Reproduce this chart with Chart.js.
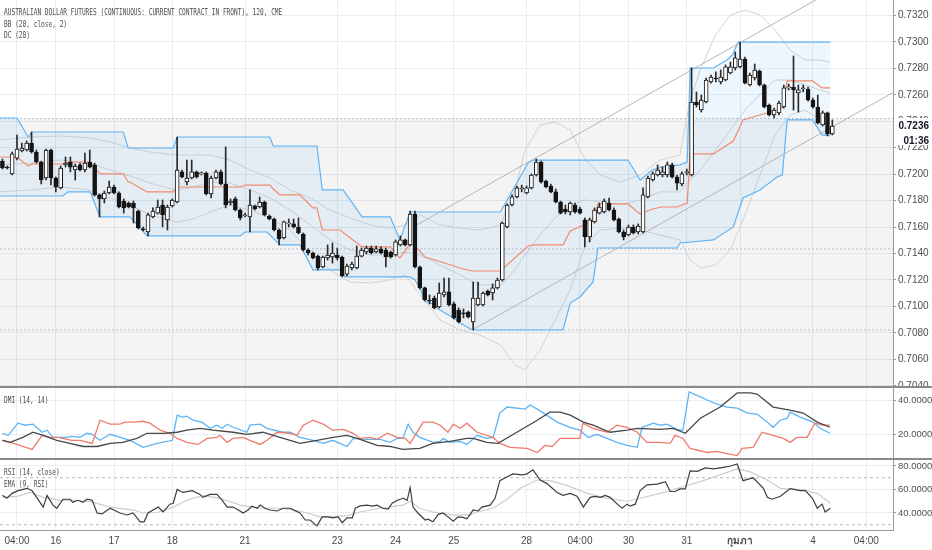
<!DOCTYPE html>
<html><head><meta charset="utf-8">
<script src="https://cdn.jsdelivr.net/npm/chart.js@4.4.1/dist/chart.umd.min.js"></script>
<style>
html,body{margin:0;padding:0;background:#fff;width:932px;height:550px;overflow:hidden}
#wrap{position:relative;width:932px;height:550px}
canvas{position:absolute;left:0}
.lg{position:absolute;left:4px;font-family:'DejaVu Sans Mono','Liberation Mono',monospace;font-size:8.5px;line-height:10px;color:#4a4a4a;transform:scaleX(0.725);transform-origin:0 50%;white-space:nowrap}
.sep{position:absolute;left:0;width:932px;height:2px;background:#8a8a8a}
</style></head><body>
<div id="wrap">
<canvas id="main" width="932" height="387" style="top:0"></canvas>
<canvas id="dmi" width="932" height="71" style="top:388px"></canvas>
<canvas id="rsi" width="932" height="90" style="top:460px"></canvas>
<div class="sep" style="top:386px"></div>
<div class="sep" style="top:458px"></div>
<div class="lg" style="top:7px">AUSTRALIAN DOLLAR FUTURES (CONTINUOUS: CURRENT CONTRACT IN FRONT), 120, CME</div>
<div class="lg" style="top:19px">BB (20, close, 2)</div>
<div class="lg" style="top:30px">DC (20)</div>
<div class="lg" style="top:395px">DMI (14, 14)</div>
<div class="lg" style="top:467px">RSI (14, close)</div>
<div class="lg" style="top:479px">EMA (9, RSI)</div>
</div>
<script>
// ---------- price candles (2h bars) ----------
const open = [0.72099,0.72054,0.72002,0.72122,0.72175,0.72183,0.72236,0.72168,0.72092,0.71971,
0.72183,0.71971,0.71896,0.72070,0.72092,0.72032,0.72070,0.72032,0.72092,0.72070,
0.71843,0.71813,0.71858,0.71903,0.71858,0.71797,0.71782,0.71782,0.71722,0.71586,
0.71563,0.71677,0.71706,0.71767,0.71654,0.71760,0.71790,0.72017,0.71941,0.71971,
0.72017,0.72002,0.72009,0.71851,0.71971,0.72017,0.71926,0.71782,0.71813,0.71729,
0.71684,0.71677,0.71760,0.71752,0.71790,0.71684,0.71661,0.71578,0.71518,0.71624,
0.71624,0.71601,0.71548,0.71427,0.71404,0.71381,0.71298,0.71366,0.71374,0.71389,
0.71374,0.71245,0.71291,0.71291,0.71381,0.71412,0.71442,0.71412,0.71435,0.71427,
0.71412,0.71389,0.71465,0.71503,0.71465,0.71699,0.71298,0.71140,0.71049,0.71064,
0.70996,0.71087,0.71110,0.71019,0.70973,0.70951,0.70958,0.70883,0.71011,0.71011,
0.71117,0.71102,0.71140,0.71200,0.71601,0.71767,0.71828,0.71888,0.71858,0.71896,
0.71994,0.72092,0.71948,0.71911,0.71866,0.71790,0.71737,0.71714,0.71767,0.71737,
0.71654,0.71525,0.71639,0.71706,0.71714,0.71782,0.71729,0.71661,0.71563,0.71540,
0.71601,0.71563,0.71563,0.71828,0.71956,0.71994,0.71994,0.71994,0.72070,0.71979,
0.71926,0.72009,0.71994,0.72546,0.72485,0.72546,0.72697,0.72727,0.72697,0.72712,
0.72765,0.72803,0.72811,0.72871,0.72674,0.72727,0.72780,0.72674,0.72523,0.72448,
0.72463,0.72508,0.72652,0.72659,0.72614,0.72644,0.72644,0.72561,0.72508,0.72372,
0.72463,0.72304];
const high = [0.72115,0.72062,0.72168,0.72296,0.72236,0.72251,0.72319,0.72183,0.72099,0.72190,
0.72190,0.71979,0.72062,0.72130,0.72130,0.72077,0.72084,0.72160,0.72183,0.72084,
0.71851,0.71873,0.71948,0.71918,0.71866,0.71813,0.71790,0.71797,0.71729,0.71601,
0.71706,0.71745,0.71805,0.71805,0.71767,0.71813,0.72281,0.72032,0.72107,0.72107,
0.72024,0.72017,0.72017,0.71986,0.72032,0.72032,0.72206,0.71813,0.71828,0.71737,
0.71706,0.71881,0.71767,0.71828,0.71797,0.71692,0.71669,0.71586,0.71646,0.71661,
0.71661,0.71669,0.71556,0.71435,0.71412,0.71389,0.71381,0.71465,0.71480,0.71442,
0.71381,0.71321,0.71336,0.71457,0.71442,0.71457,0.71457,0.71457,0.71450,0.71442,
0.71419,0.71503,0.71533,0.71510,0.71722,0.71722,0.71306,0.71147,0.71087,0.71079,
0.71177,0.71215,0.71215,0.71034,0.70989,0.70981,0.70966,0.71185,0.71185,0.71110,
0.71125,0.71170,0.71215,0.71639,0.71775,0.71843,0.71911,0.71918,0.71911,0.72002,
0.72115,0.72099,0.71956,0.71926,0.71888,0.71797,0.71767,0.71790,0.71782,0.71752,
0.71669,0.71669,0.71745,0.71782,0.71813,0.71820,0.71745,0.71669,0.71578,0.71616,
0.71616,0.71624,0.71896,0.71986,0.72017,0.72070,0.72055,0.72092,0.72084,0.71994,
0.72017,0.72039,0.72803,0.72622,0.72599,0.72727,0.72750,0.72773,0.72788,0.72826,
0.72848,0.72924,0.72999,0.72886,0.72765,0.72833,0.72788,0.72682,0.72531,0.72500,
0.72553,0.72674,0.72682,0.72894,0.72674,0.72674,0.72659,0.72576,0.72599,0.72478,
0.72470,0.72410];
const low = [0.72039,0.72039,0.71994,0.72107,0.72168,0.72175,0.72160,0.72084,0.71926,0.71956,
0.71918,0.71866,0.71888,0.72054,0.72017,0.71956,0.72024,0.72017,0.72047,0.71835,
0.71677,0.71782,0.71851,0.71851,0.71745,0.71706,0.71745,0.71631,0.71586,0.71571,
0.71533,0.71669,0.71699,0.71601,0.71578,0.71752,0.71782,0.71971,0.71918,0.71964,
0.71971,0.71994,0.71843,0.71820,0.71964,0.71918,0.71745,0.71767,0.71722,0.71654,
0.71677,0.71563,0.71729,0.71745,0.71684,0.71654,0.71571,0.71465,0.71510,0.71601,
0.71593,0.71548,0.71419,0.71389,0.71359,0.71276,0.71291,0.71351,0.71328,0.71351,
0.71223,0.71230,0.71276,0.71283,0.71374,0.71397,0.71397,0.71404,0.71397,0.71298,
0.71366,0.71381,0.71457,0.71457,0.71457,0.71291,0.71132,0.71041,0.71019,0.70981,
0.70989,0.71072,0.71004,0.70905,0.70875,0.70913,0.70913,0.70822,0.71004,0.71004,
0.71079,0.71049,0.71132,0.71192,0.71593,0.71760,0.71820,0.71866,0.71851,0.71888,
0.71986,0.71933,0.71896,0.71858,0.71782,0.71699,0.71699,0.71692,0.71706,0.71699,
0.71450,0.71488,0.71631,0.71699,0.71706,0.71722,0.71646,0.71556,0.71503,0.71533,
0.71548,0.71548,0.71556,0.71820,0.71948,0.71986,0.71979,0.71979,0.71971,0.71881,
0.71911,0.71994,0.71986,0.72508,0.72470,0.72538,0.72689,0.72697,0.72682,0.72705,
0.72758,0.72788,0.72803,0.72682,0.72667,0.72712,0.72667,0.72500,0.72440,0.72425,
0.72448,0.72500,0.72637,0.72485,0.72470,0.72622,0.72553,0.72500,0.72380,0.72364,
0.72289,0.72296];
const close = [0.72047,0.72047,0.72153,0.72190,0.72198,0.72236,0.72168,0.72092,0.71956,0.72183,
0.71971,0.71903,0.72047,0.72084,0.72054,0.72062,0.72032,0.72084,0.72054,0.71843,
0.71813,0.71858,0.71903,0.71858,0.71752,0.71745,0.71752,0.71745,0.71593,0.71578,
0.71692,0.71722,0.71752,0.71692,0.71752,0.71805,0.72032,0.71979,0.71971,0.72017,
0.71979,0.72009,0.71851,0.71971,0.72017,0.71926,0.71767,0.71797,0.71729,0.71669,
0.71692,0.71767,0.71737,0.71790,0.71692,0.71661,0.71578,0.71510,0.71639,0.71631,
0.71601,0.71556,0.71427,0.71404,0.71366,0.71291,0.71374,0.71389,0.71404,0.71366,
0.71230,0.71306,0.71321,0.71381,0.71427,0.71442,0.71404,0.71435,0.71404,0.71374,
0.71374,0.71488,0.71503,0.71465,0.71699,0.71298,0.71140,0.71049,0.71041,0.70989,
0.71102,0.71110,0.71011,0.70913,0.70883,0.70943,0.70920,0.71064,0.71064,0.71102,
0.71087,0.71140,0.71200,0.71631,0.71767,0.71828,0.71896,0.71896,0.71896,0.71994,
0.72092,0.71941,0.71903,0.71866,0.71790,0.71706,0.71714,0.71782,0.71714,0.71706,
0.71525,0.71654,0.71729,0.71752,0.71797,0.71729,0.71654,0.71563,0.71525,0.71601,
0.71556,0.71608,0.71843,0.71971,0.72002,0.72032,0.72017,0.72070,0.71979,0.71933,
0.72002,0.72017,0.72546,0.72523,0.72561,0.72712,0.72735,0.72720,0.72735,0.72811,
0.72811,0.72879,0.72871,0.72689,0.72750,0.72788,0.72674,0.72508,0.72448,0.72485,
0.72538,0.72652,0.72659,0.72637,0.72637,0.72652,0.72561,0.72508,0.72387,0.72463,
0.72304,0.72364];

// ---------- Donchian channel (20) ----------
const dcUpperX = [-0.5,3.0,5.3,6.1,24.9,25.9,35.2,36.0,55.1,55.8,64.8,65.9,70.2,74.1,79.9,81.9,84.0,102.6,108.3,109.4,128.9,131.4,133.9,135.9,139.6,141.1,141.7,146.5,149.3,150.4,151.6,170.6];
const dcUpperY = [0.72425,0.72425,0.72281,0.72319,0.72319,0.72198,0.72198,0.72281,0.72281,0.72213,0.72213,0.71881,0.71881,0.71677,0.71677,0.71503,0.71714,0.71714,0.72085,0.72107,0.72107,0.71956,0.72032,0.72055,0.72070,0.72092,0.72803,0.72803,0.72863,0.72901,0.72999,0.72999];
const dcLowerX = [-0.5,12.5,13.5,18.1,20.1,26.3,28.4,29.8,49.0,50.0,54.5,57.2,61.3,64.0,69.6,70.6,84.0,85.0,86.1,87.1,88.7,89.8,93.3,94.3,96.8,115.5,117.0,119.0,121.7,122.7,139.0,139.6,146.5,150.6,152.6,156.1,159.6,160.7,161.7,166.9,168.9,170.6];
const dcLowerY = [0.71835,0.71835,0.71866,0.71866,0.71677,0.71677,0.71593,0.71533,0.71533,0.71563,0.71563,0.71465,0.71465,0.71276,0.71276,0.71223,0.71223,0.71200,0.71132,0.71041,0.71019,0.70981,0.70905,0.70875,0.70822,0.70822,0.71026,0.71072,0.71185,0.71442,0.71442,0.71480,0.71503,0.71601,0.71820,0.71881,0.71979,0.71994,0.72410,0.72410,0.72296,0.72296];
const dcBasisX = [-0.5,3.0,5.3,6.1,12.5,13.5,18.1,20.1,24.9,25.9,26.3,28.4,29.8,35.2,36.0,49.0,50.0,55.1,55.8,57.2,61.3,64.0,64.8,65.9,69.6,70.6,74.1,79.9,81.9,84.0,85.0,87.1,89.8,94.3,96.8,102.6,108.3,109.4,115.5,117.0,121.7,122.7,128.9,131.4,133.9,135.9,139.0,141.1,141.7,146.5,150.6,152.6,159.6,160.7,161.7,166.9,168.9,170.6];
const dcBasisY = [0.72130,0.72130,0.72062,0.72077,0.72077,0.72092,0.72092,0.72002,0.72002,0.71941,0.71941,0.71896,0.71866,0.71866,0.71903,0.71903,0.71918,0.71918,0.71888,0.71843,0.71843,0.71745,0.71745,0.71578,0.71578,0.71548,0.71450,0.71450,0.71366,0.71472,0.71457,0.71374,0.71344,0.71291,0.71268,0.71268,0.71457,0.71465,0.71465,0.71571,0.71646,0.71775,0.71775,0.71699,0.71737,0.71752,0.71752,0.71782,0.72153,0.72153,0.72251,0.72410,0.72485,0.72500,0.72705,0.72705,0.72652,0.72652];

// ---------- Bollinger bands (20, close, 2) ----------
const bbX = [-0.5,5.7,11.9,18.1,22.2,26.3,30.4,35.6,38.7,42.8,46.9,51.0,55.1,59.3,63.4,67.5,71.6,75.8,79.9,83.0,86.1,90.2,94.3,98.4,102.6,105.6,107.7,110.8,113.9,117.0,120.1,123.2,127.3,131.4,135.5,139.6,141.7,143.8,146.9,150.0,153.0,156.1,159.2,162.3,165.4,168.5,170.6];
const bbUpper = [0.72259,0.72281,0.72289,0.72274,0.72244,0.72198,0.72168,0.72145,0.72145,0.72145,0.72107,0.72032,0.71971,0.71881,0.71820,0.71729,0.71669,0.71616,0.71593,0.71616,0.71692,0.71616,0.71593,0.71578,0.71616,0.71881,0.72183,0.72372,0.72395,0.72334,0.72107,0.71994,0.71941,0.71994,0.72107,0.72145,0.72561,0.72788,0.73052,0.73204,0.73241,0.73204,0.73090,0.72939,0.72863,0.72863,0.72848];
const bbBasis = [0.72070,0.72084,0.72107,0.72084,0.72032,0.71986,0.71933,0.71881,0.71896,0.71941,0.71933,0.71881,0.71820,0.71729,0.71616,0.71503,0.71427,0.71389,0.71389,0.71412,0.71389,0.71313,0.71238,0.71162,0.71162,0.71276,0.71389,0.71540,0.71669,0.71767,0.71805,0.71790,0.71767,0.71805,0.71866,0.71866,0.71956,0.72032,0.72183,0.72334,0.72485,0.72599,0.72712,0.72712,0.72674,0.72637,0.72614];
const bbLower = [0.71866,0.71881,0.71903,0.71881,0.71820,0.71767,0.71692,0.71639,0.71654,0.71714,0.71767,0.71729,0.71669,0.71578,0.71412,0.71276,0.71185,0.71177,0.71200,0.71238,0.71087,0.70898,0.70822,0.70784,0.70709,0.70558,0.70520,0.70671,0.70898,0.71125,0.71465,0.71578,0.71593,0.71578,0.71540,0.71503,0.71351,0.71291,0.71313,0.71427,0.71692,0.71994,0.72296,0.72448,0.72485,0.72410,0.72372];

// ---------- drawings ----------
const channelUpX = [85.4, 175];
const channelUpY = [0.71616, 0.73471];
const channelLoX = [96.8, 183.5];
const channelLoY = [0.70822, 0.72617];
const zoneTop = 0.72420;
const hLevels = [0.71435, 0.70822];

// ---------- DMI (14, 14) ----------
const pdiX = [0,1.2,3.2,4.7,6.3,8.2,9.2,10.4,13.3,14.3,16,17.4,18.5,20.1,22.2,26.3,29,31.9,35,36,37,38,39.3,41.1,42.8,44.2,45.3,46.3,47.5,50.4,51,53.1,54.5,57.8,59.3,61.3,64,66.1,68.1,71,72.3,75.1,77.8,79.9,81.3,82.5,83.6,84.6,86,88.7,90.2,90.8,92.2,94.3,95.7,97.8,99.8,101.1,102.5,104,107.7,108.7,110.2,114.3,116.9,119,120.7,122.5,124.6,126.6,128.7,130.8,131.8,134.1,135.5,136.9,139,140.2,141.5,143.8,145.2,147.3,149.3,151.4,153.5,155.5,157.6,158.8,160.3,161.7,162.3,164.4,167,168.5,170.5];
const pdiV = [20.6,19.4,26.5,25.3,25.9,21.2,22.4,18.2,18.2,18.8,18.2,20.6,20,16.5,20,16.5,12.4,14.7,16.5,31.2,30,30.6,28.2,27.1,23.5,25.3,23.5,25.9,24.1,21.2,25.3,25.9,23.5,21.2,21.2,18.2,16.5,14.7,16.5,12.9,17.6,17.1,17.1,15.3,17.6,17.6,25.9,21.2,18.2,15.3,15.9,17.6,15.3,15.9,14.1,19.4,17.6,18.2,32.4,35.9,34.7,37.1,34.7,27.1,24.1,22.4,18.2,20,17.6,15.3,13.5,12.4,24.1,26.5,25.3,25.9,22.9,22.4,44.7,41.8,40,37.6,35.9,35.3,32.4,31.8,27.1,24.1,28.2,29.4,32.9,30,27.1,23.5,20.6];
const mdiX = [0,1.6,3.6,6.1,8.2,9.8,11.5,14.3,16,18.5,20.1,22.2,24.2,25.3,26.9,29,30.4,32.5,34.5,36,38,40.3,42.2,44.2,44.8,46.3,47.5,49.6,51,53.1,54.5,56.6,59.3,60.7,62,64,66.1,68.1,70.2,72.3,73.7,75.8,77.2,79.3,81.3,83,84,86.7,88.7,90.2,91.8,92.9,94.3,95.7,97.8,101.1,102.5,104.6,108.1,110.2,111.8,113.3,114.9,116.9,119,119.6,121.7,124.6,126.6,128.7,130.8,132.8,135.5,137.6,138.6,140.2,141.7,145.2,147.3,149.3,151.4,152.4,154.7,156.5,158.8,160.9,162.3,163.7,165.8,167.4,169.1,170.5];
const mdiV = [16.5,15.3,13.5,11.2,19.4,18.2,18.2,16.5,16.5,14.7,28.2,25.9,25.9,27.1,27.1,27.6,26.5,22.4,20.6,17.6,15.3,14.1,17.6,18.2,19.4,15.3,17.6,18.2,16.5,14.1,16.5,21.2,20.6,19.4,25.3,28.2,25.9,22.4,22.9,20.6,17.6,18.2,17.1,20.6,18.2,17.6,14.7,27.1,27.1,25.3,21.2,25.9,23.5,26.5,21.2,18.2,14.7,12.4,11.8,9.4,13.5,12.9,17.6,17.6,17.6,26.5,23.5,21.2,25.3,24.1,21.2,15.3,15.3,14.7,19.4,17.6,11.8,9.4,10,8.8,7.6,11.8,12.4,21.2,19.4,17.6,15.3,18.2,18.2,26.5,25.3,25.3];
const adxX = [0,1.6,4.2,6.3,8.4,11.2,13.9,16.6,19.5,22.2,24.8,27.7,29.8,33.1,36,38,40.7,43.4,47.5,50.4,53.7,55.8,58.6,61.3,64.8,68.1,71,73.7,77.2,79.9,82.5,86,88.7,92.2,95.7,97,99.8,102.1,106.7,110.2,112.8,114.9,117,119.7,121.7,125.2,128.7,130.8,135.5,138.2,140.7,143.8,147.9,151.4,154.1,155.5,158.8,162.3,165,167.9,170.5];
const adxV = [16.5,15.3,18.2,21.2,19.4,16.5,14.7,12.9,12.9,14.7,15.3,17.6,20.6,20.6,21.2,22.4,23.5,22.4,21.2,20,21.2,19.4,17.1,14.7,16.5,18.2,19.4,17.1,13.5,12.9,11.2,11.8,14.7,15.9,17.6,17.6,15.3,14.7,22.4,28.2,32.9,32.9,31.2,27.1,25.3,21.2,22.4,23.5,22.9,23.5,20.6,29.4,35.9,44.1,44.1,43.5,35.9,34.1,32.4,27.1,24.1];

// ---------- RSI (14, close) and EMA (9, RSI) ----------
const rsiX = [0,0.9,2,3.2,5.1,6.1,7.1,8.4,9.2,10.4,11.2,12.5,13.9,14.5,15.6,16.6,17.4,18.5,19.5,20.5,22.2,24.2,25.7,26.9,28.4,29.2,30,32.1,33.1,34.5,35.2,36,37.2,39.1,40.7,41.3,42.8,44.2,45.3,46.3,47.5,48.6,49.6,50.6,51.4,52.5,53.1,54.1,55.1,56.6,57.8,59.3,60.3,61.3,62.4,63.4,64.8,65.9,67.1,68.1,69.2,70,71,72.1,72.7,73.7,75.1,76.2,77.2,78.4,79.5,80.3,81.5,82.6,83.4,84,84.6,85.6,87.1,87.7,88.7,89.8,90.8,91.8,92.9,93.9,94.9,95.7,97,98,98.8,100.5,101.5,102.5,103.6,105.2,107.1,108.1,109.3,110.8,112.2,114.3,115.5,117,118.4,119.7,121.1,122.1,123.2,124.2,125.2,126.7,127.7,128.7,129.3,130.4,131.4,132.8,134.9,136.6,137.6,138.6,139.6,140.7,141.7,143.2,144.8,146.5,148.5,150,151.4,152.6,154.7,156.8,157.6,158.6,160.3,162.3,164.4,165.4,166.9,167.9,168.9,169.5,170.6];
const rsiV = [55,52.5,56.7,59,61,59,53,45,55,46.7,44,51.7,51.7,49,50.8,49,51.7,50.8,40,39.2,44,40,38.3,40,32.5,32.5,40,45,41,47.5,48.3,60,57.5,59,55.8,53.3,55.8,55.8,50.8,45,45,42.5,40,42.5,45.8,44,46.7,44,42.5,41.7,44,44,42,40,34,34,29,36.7,36.7,35.8,36.7,31.7,35.8,35.8,44,46,46.7,45.8,46.7,44,43.3,48.3,51,52.5,50.8,61.7,45,40,34,34.7,32.5,38.8,40,36.7,33,36.7,36.2,35,42.5,41.7,45,46.7,52.5,67.5,70,73.3,72.5,73.3,76.7,68,65,57.5,55,56.7,54.2,45,53.3,54.2,53.3,55,53.3,47.5,44,47.5,45.8,47.5,59,64,64.5,66.7,58.3,58.3,60.5,60.5,75.8,75.4,78.3,77.5,78.8,80,81.7,67.5,70,61,53.3,51.7,54.2,60.8,59,59.2,52.5,44,47.5,40.8,44];
const emaX = [0,3,5.7,8.4,11.9,15.4,18.1,22.2,26.9,29,31.9,35.2,38,41.3,44.8,49,53.1,57.2,61.3,65.5,71,73.7,77.8,82.6,84,86,88.7,92.9,96.4,97.8,101.1,104,106.7,110.2,112.9,116.4,120.5,124.6,128.7,131.4,135.5,139.6,143.8,147.9,151.4,154.1,157.6,160.3,164.4,167.9,170.6];
const emaV = [53.3,54.2,57.5,53.3,50.8,50.8,49.6,45,42.5,40,40.4,45,50.8,55,52.5,46.7,44,44,41.7,36.7,37.5,40.8,44,46.7,50,44,40.8,38.3,38.3,40.8,44,51.7,61,68,67.5,63.3,56.7,52.5,50,52.5,56.7,61.7,66.7,72.5,77.5,75,68,61,60,56.7,48.3];
const rsiBands = [70, 30];

// ---------- time axis ----------
const tickIdx = [3, 11, 23, 35, 50, 69, 81, 93, 108, 119, 129, 141, 152, 167, 178];
const tickText = ['04:00','16','17','18','21','23','24','25','28','04:00','30','31','กุมภา','4','04:00'];
const countdown = '01:36';

// ---------- helpers ----------
const X_MIN = -0.5, X_MAX = 183.5;
const pts = (xs, ys) => xs.map((x, i) => ({x, y: ys[i]}));
const flat = v => [{x: X_MIN, y: v}, {x: X_MAX, y: v}];
const GRID = '#e9eef4', AXIS = '#9b9b9b', TXT = '#4f4f4f';
Chart.defaults.font.family = "'Liberation Sans', Arial, 'DejaVu Sans', sans-serif";
Chart.defaults.animation = false;

function xScale(showLabels) {
  return {
    type: 'linear', min: X_MIN, max: X_MAX, offset: false,
    afterBuildTicks: s => { s.ticks = tickIdx.map(v => ({value: v})); },
    ticks: {
      display: showLabels, autoSkip: false, maxRotation: 0, minRotation: 0, padding: 5, color: '#4a4a4a',
      callback: v => tickText[tickIdx.indexOf(v)],
      font: ctx => ({size: 10, weight: (ctx.tick && ctx.tick.label === 'กุมภา') ? 'bold' : 'normal'})
    },
    grid: {color: GRID, drawTicks: false, offset: false},
    border: {display: showLabels, color: AXIS},
    afterFit: s => { s.height = showLabels ? 20 : 0; s.paddingLeft = 0; s.paddingRight = 0; }
  };
}
function yScale(min, max, step, fontSize) {
  return {
    type: 'linear', position: 'right', min, max,
    ticks: {stepSize: step, includeBounds: false, color: TXT, font: {size: fontSize}, padding: 2,
            callback: v => v.toFixed(4)},
    grid: {color: GRID, tickColor: AXIS, tickLength: 3},
    border: {color: AXIS},
    afterFit: s => { s.width = 39; s.paddingTop = 0; s.paddingBottom = 0; }
  };
}
const lineDs = (data, color, width, extra) => Object.assign({
  type: 'line', data, borderColor: color, borderWidth: width, pointRadius: 0, tension: 0, fill: false
}, extra || {});
const baseOpts = {
  responsive: false, animation: false, events: [],
  layout: {padding: 0},
  plugins: {legend: {display: false}, tooltip: {enabled: false}}
};

// ---------- main price pane ----------
const bodies = close.map((c, i) => ({x: i, y: [open[i], c]}));
const wicks = close.map((c, i) => ({x: i, y: [low[i], high[i]]}));
const bodyFill = close.map((c, i) => c >= open[i] ? '#ffffff' : '#141414');

const lastPrice = {
  id: 'lastPrice',
  afterDraw(chart) {
    const ys = chart.scales.y;
    const last = close[close.length - 1];
    const y = ys.getPixelForValue(last);
    const ctx = chart.ctx;
    const x0 = chart.chartArea.right + 1;
    ctx.save();
    ctx.fillStyle = '#ffffff';
    ctx.fillRect(x0, y - 8, chart.width - x0, 27);
    ctx.fillStyle = '#131722';
    ctx.textAlign = 'right';
    ctx.textBaseline = 'middle';
    ctx.font = "bold 10px 'Liberation Sans', Arial, sans-serif";
    ctx.fillText(last.toFixed(4), chart.width - 3, y);
    ctx.fillText(countdown, chart.width - 3, y + 15);
    ctx.restore();
  }
};

new Chart(document.getElementById('main'), {
  type: 'line',
  data: {datasets: [
    {type: 'bar', data: bodies, backgroundColor: bodyFill, borderColor: '#141414', borderWidth: 1,
     barThickness: 4, grouped: false, borderSkipped: false, minBarLength: 1},
    {type: 'bar', data: wicks, backgroundColor: '#2a2a2a', borderWidth: 0,
     barThickness: 1, grouped: false, borderSkipped: false},
    lineDs(pts(channelUpX, channelUpY), '#b4b4b4', 1),
    lineDs(pts(channelLoX, channelLoY), '#b4b4b4', 1),
    lineDs(pts(dcBasisX, dcBasisY), '#f3896f', 1.2),
    lineDs(pts(dcUpperX, dcUpperY), '#62b4f4', 1.2, {fill: '+1', backgroundColor: 'rgba(33,150,243,0.08)'}),
    lineDs(pts(dcLowerX, dcLowerY), '#62b4f4', 1.2),
    lineDs(pts(bbX, bbUpper), '#d2d2d2', 1),
    lineDs(pts(bbX, bbBasis), '#d2d2d2', 1),
    lineDs(pts(bbX, bbLower), '#d2d2d2', 1),
    lineDs(flat(hLevels[0]), '#bcbcbc', 1, {borderDash: [2, 2]}),
    lineDs(flat(hLevels[1]), '#bcbcbc', 1, {borderDash: [2, 2]}),
    lineDs(flat(zoneTop), '#bcbcbc', 1, {borderDash: [2, 2], fill: 'start', backgroundColor: 'rgba(0,0,0,0.045)'})
  ]},
  options: Object.assign({}, baseOpts, {
    scales: {x: xScale(false), y: yScale(0.70391, 0.73317, 0.002, 10)}
  }),
  plugins: [lastPrice]
});

// ---------- DMI pane ----------
new Chart(document.getElementById('dmi'), {
  type: 'line',
  data: {datasets: [
    lineDs(pts(adxX, adxV), '#474747', 1.3),
    lineDs(pts(mdiX, mdiV), '#ee7b6b', 1.3),
    lineDs(pts(pdiX, pdiV), '#5db4f4', 1.3)
  ]},
  options: Object.assign({}, baseOpts, {
    scales: {x: xScale(false), y: yScale(5.6, 47.0, 20, 9.5)}
  })
});

// ---------- RSI pane ----------
new Chart(document.getElementById('rsi'), {
  type: 'line',
  data: {datasets: [
    lineDs(pts(rsiX, rsiV), '#3d3d3d', 1.2),
    lineDs(pts(emaX, emaV), '#cdcdcd', 1.2),
    lineDs(flat(rsiBands[0]), '#b8b8b8', 1, {borderDash: [3, 3]}),
    lineDs(flat(rsiBands[1]), '#b8b8b8', 1, {borderDash: [3, 3]})
  ]},
  options: Object.assign({}, baseOpts, {
    scales: {x: xScale(true), y: yScale(25.5, 85.1, 20, 9.5)}
  })
});
</script>
</body></html>
